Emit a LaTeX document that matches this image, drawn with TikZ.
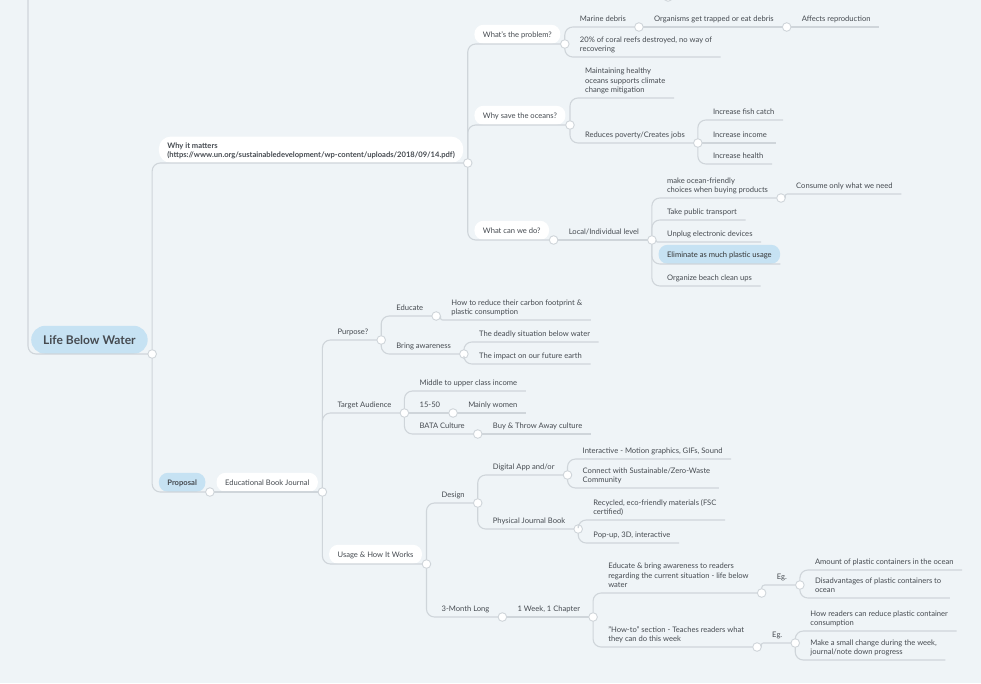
\documentclass[tikz,border=0pt]{standalone}
\usepackage{fontspec}
\setmainfont{Lato}
\usetikzlibrary{positioning}
\definecolor{bgblue}{HTML}{EFF4F7}
\definecolor{linegray}{HTML}{CFD5DA}
\definecolor{pillblue}{HTML}{C6E2F3}
\definecolor{inkgray}{HTML}{464B51}

\begin{document}
\begin{tikzpicture}[
        x=1pt, y=-1pt,
        every node/.style={text=inkgray},
        topic/.style={anchor=south west, xshift=2.2pt, inner xsep=8.5pt, inner ysep=4.5pt,
            text height=7pt, text depth=1pt, align=left,
            font=\fontsize{7.6}{9.2}\selectfont},
        pill/.style={topic, fill=white, rounded corners=9pt, inner ysep=5.5pt},
        headpill/.style={pill, font=\fontsize{7.6}{9.2}\selectfont\bfseries},
        bluepill/.style={pill, fill=pillblue},
        rootpill/.style={anchor=south west, fill=pillblue, rounded corners=14pt,
            minimum height=28pt, inner xsep=12pt, font=\fontsize{12}{13}\selectfont\bfseries},
        knob/.style={circle, draw=linegray, fill=white, line width=0.9pt,
            inner sep=0pt, outer sep=0pt, minimum size=8.6pt, anchor=west},
        branch/.style={draw=linegray, line width=1.1pt, rounded corners=8pt}
        ]
    \fill[bgblue] (0,0) rectangle (981,683);
    \useasboundingbox (0,0) rectangle (981,683);

    \node[rootpill] (root) at (31,354) {Life Below Water};
    \node[knob] (k-root) at (root.south east) {};
    \coordinate (offtop) at (28,-5);
    \node[knob, anchor=center] (k-off) at (668,-3) {};

    % why it matters
    \node[headpill, inner ysep=4.5pt, text height=16.2pt, rounded corners=12pt] (why) at (k-root.east |- 0,163)
        {Why it matters\\(https://www.un.org/sustainabledevelopment/wp-content/uploads/2018/09/14.pdf)};
    \node[knob] (k-why) at (why.south east) {};
    \node[pill] (prob) at (k-why.east |- 0,44) {What’s the problem?};
    \node[knob] (k-prob) at (prob.south east) {};
    \node[pill] (save) at (k-why.east |- 0,125) {Why save the oceans?};
    \node[knob] (k-save) at (save.south east) {};
    \node[pill] (cando) at (k-why.east |- 0,240) {What can we do?};
    \node[knob] (k-cando) at (cando.south east) {};

    \node[topic] (debris) at (k-prob.east |- 0,27) {Marine debris};
    \node[knob] (k-debris) at (debris.south east) {};
    \node[topic] (trap) at (k-debris.east) {Organisms get trapped or eat debris};
    \node[knob] (k-trap) at (trap.south east) {};
    \node[topic] (repro) at (k-trap.east) {Affects reproduction};
    \node[topic] (coral) at (k-prob.east |- 0,57) {20\% of coral reefs destroyed, no way of\\recovering};

    \node[topic] (climate) at (k-save.east |- 0,98) {Maintaining healthy\\oceans supports climate\\change mitigation};
    \node[topic] (jobs) at (k-save.east |- 0,143) {Reduces poverty/Creates jobs};
    \node[knob] (k-jobs) at (jobs.south east) {};
    \node[topic] (fish) at (k-jobs.east |- 0,120) {Increase fish catch};
    \node[topic] (income) at (k-jobs.east) {Increase income};
    \node[topic] (health) at (k-jobs.east |- 0,164) {Increase health};

    \node[topic] (local) at (k-cando.east) {Local/Individual level};
    \node[knob] (k-local) at (local.south east) {};
    \node[topic] (choices) at (k-local.east |- 0,198) {make ocean-friendly\\choices when buying products};
    \node[knob] (k-choices) at (choices.south east) {};
    \node[topic] (consume) at (k-choices.east |- 0,194) {Consume only what we need};
    \node[topic] (transport) at (k-local.east |- 0,220) {Take public transport};
    \node[topic] (unplug) at (k-local.east |- 0,242) {Unplug electronic devices};
    \node[bluepill, text=black!80] (plastic) at (k-local.east |- 0,264) {Eliminate as much plastic usage};
    \node[topic] (cleanup) at (k-local.east |- 0,286) {Organize beach clean ups};

    % proposal
    \node[headpill, fill=pillblue] (prop) at (k-root.east |- 0,492) {Proposal};
    \node[knob] (k-prop) at (prop.south east) {};
    \node[pill] (book) at (k-prop.east) {Educational Book Journal};
    \node[knob] (k-book) at (book.south east) {};

    \node[topic] (purpose) at (k-book.east |- 0,340) {Purpose?};
    \node[knob] (k-purpose) at (purpose.south east) {};
    \node[topic] (educate) at (k-purpose.east |- 0,316) {Educate};
    \node[knob] (k-educate) at (educate.south east) {};
    \node[topic] (footprint) at (k-educate.east |- 0,320) {How to reduce their carbon footprint \&\\plastic consumption};
    \node[topic] (aware) at (k-purpose.east |- 0,354) {Bring awareness};
    \node[knob] (k-aware) at (aware.south east) {};
    \node[topic] (deadly) at (k-aware.east |- 0,342) {The deadly situation below water};
    \node[topic] (impact) at (k-aware.east |- 0,364) {The impact on our future earth};

    \node[topic] (target) at (k-book.east |- 0,413) {Target Audience};
    \node[knob] (k-target) at (target.south east) {};
    \node[topic] (income2) at (k-target.east |- 0,391) {Middle to upper class income};
    \node[topic] (age) at (k-target.east) {15-50};
    \node[knob] (k-age) at (age.south east) {};
    \node[topic] (women) at (k-age.east) {Mainly women};
    \node[topic] (bata) at (k-target.east |- 0,434) {BATA Culture};
    \node[knob] (k-bata) at (bata.south east) {};
    \node[topic] (throw) at (k-bata.east) {Buy \& Throw Away culture};

    \node[pill] (usage) at (k-book.east |- 0,564) {Usage \& How It Works};
    \node[knob] (k-usage) at (usage.south east) {};
    \node[topic] (design) at (k-usage.east |- 0,503) {Design};
    \node[knob] (k-design) at (design.south east) {};
    \node[topic] (app) at (k-design.east |- 0,475) {Digital App and/or};
    \node[knob] (k-app) at (app.south east) {};
    \node[topic] (motion) at (k-app.east |- 0,459) {Interactive - Motion graphics, GIFs, Sound};
    \node[topic] (community) at (k-app.east |- 0,488) {Connect with Sustainable/Zero-Waste\\Community};
    \node[topic] (journal) at (k-design.east |- 0,529) {Physical Journal Book};
    \node[knob] (k-journal) at (journal.south east) {};
    \node[topic] (recycled) at (k-journal.east |- 0,520) {Recycled, eco-friendly materials (FSC\\certified)};
    \node[topic] (popup) at (k-journal.east |- 0,543) {Pop-up, 3D, interactive};

    \node[topic] (months) at (k-usage.east |- 0,617) {3-Month Long};
    \node[knob] (k-months) at (months.south east) {};
    \node[topic] (week) at (k-months.east) {1 Week, 1 Chapter};
    \node[knob] (k-week) at (week.south east) {};
    \node[topic] (situation) at (k-week.east |- 0,593) {Educate \& bring awareness to readers\\regarding the current situation - life below\\water};
    \node[knob] (k-situation) at (situation.south east) {};
    \node[topic] (eg1) at (k-situation.east |- 0,585) {Eg.};
    \node[knob] (k-eg1) at (eg1.south east) {};
    \node[topic] (amount) at (k-eg1.east |- 0,570) {Amount of plastic containers in the ocean};
    \node[topic] (harm) at (k-eg1.east |- 0,598) {Disadvantages of plastic containers to\\ocean};
    \node[topic] (howto) at (k-week.east |- 0,647) {"How-to" section - Teaches readers what\\they can do this week};
    \node[knob] (k-howto) at (howto.south east) {};
    \node[topic] (eg2) at (k-howto.east |- 0,643) {Eg.};
    \node[knob] (k-eg2) at (eg2.south east) {};
    \node[topic] (reduce) at (k-eg2.east |- 0,631) {How readers can reduce plastic container\\consumption};
    \node[topic] (change) at (k-eg2.east |- 0,660) {Make a small change during the week,\\journal/note down progress};

    % connectors
    \draw[branch] (offtop) |- (root.south east);
    \draw[branch] (k-root.north) |- (why.south east);
    \draw[branch] (k-root.south) |- (prop.south east);
    \draw[branch] (k-why.north) |- (prob.south east);
    \draw[branch] (k-why.north) |- (save.south east);
    \draw[branch] (k-why.south) |- (cando.south east);
    \draw[branch] (k-prob.north) |- (k-debris.west);
    \draw[branch] (k-debris.east) -- (k-trap.west);
    \draw[branch] (k-trap.east) -- (repro.south east);
    \draw[branch] (k-prob.south) |- (coral.south east);
    \draw[branch] (k-save.north) |- (climate.south east);
    \draw[branch] (k-save.south) |- (k-jobs.west);
    \draw[branch] (k-jobs.north) |- (fish.south east);
    \draw[branch] (k-jobs.east) -- (income.south east);
    \draw[branch] (k-jobs.south) |- (health.south east);
    \draw[branch] (k-cando.east) -- (k-local.west);
    \draw[branch] (k-local.north) |- (k-choices.west);
    \draw[branch, rounded corners=2pt] (k-choices.east) |- (consume.south east);
    \draw[branch] (k-local.north) |- (transport.south east);
    \draw[branch, rounded corners=1pt] (k-local.east) |- (unplug.south east);
    \draw[branch] (k-local.south) |- (plastic.south east);
    \draw[branch] (k-local.south) |- (cleanup.south east);
    \draw[branch] (k-prop.east) -- (k-book.west);
    \draw[branch] (k-book.north) |- (k-purpose.west);
    \draw[branch] (k-book.north) |- (k-target.west);
    \draw[branch] (k-book.south) |- (k-usage.west);
    \draw[branch] (k-purpose.north) |- (k-educate.west);
    \draw[branch, rounded corners=2pt] (k-educate.east) |- (footprint.south east);
    \draw[branch] (k-purpose.south) |- (k-aware.west);
    \draw[branch] (k-aware.north) |- (deadly.south east);
    \draw[branch] (k-aware.south) |- (impact.south east);
    \draw[branch] (k-target.north) |- (income2.south east);
    \draw[branch] (k-target.east) -- (k-age.west);
    \draw[branch] (k-age.east) -- (women.south east);
    \draw[branch] (k-target.south) |- (k-bata.west);
    \draw[branch] (k-bata.east) -- (throw.south east);
    \draw[branch] (k-usage.north) |- (k-design.west);
    \draw[branch] (k-usage.south) |- (k-months.west);
    \draw[branch] (k-design.north) |- (k-app.west);
    \draw[branch] (k-design.south) |- (k-journal.west);
    \draw[branch] (k-app.north) |- (motion.south east);
    \draw[branch] (k-app.south) |- (community.south east);
    \draw[branch] (k-journal.north) |- (recycled.south east);
    \draw[branch] (k-journal.south) |- (popup.south east);
    \draw[branch] (k-months.east) -- (k-week.west);
    \draw[branch] (k-week.north) |- (k-situation.west);
    \draw[branch] (k-week.south) |- (k-howto.west);
    \draw[branch, rounded corners=3pt] (k-situation.north) |- (k-eg1.west);
    \draw[branch] (k-eg1.north) |- (amount.south east);
    \draw[branch] (k-eg1.south) |- (harm.south east);
    \draw[branch, rounded corners=2pt] (k-howto.east) |- (k-eg2.west);
    \draw[branch] (k-eg2.north) |- (reduce.south east);
    \draw[branch] (k-eg2.south) |- (change.south east);
\end{tikzpicture}
\end{document}
